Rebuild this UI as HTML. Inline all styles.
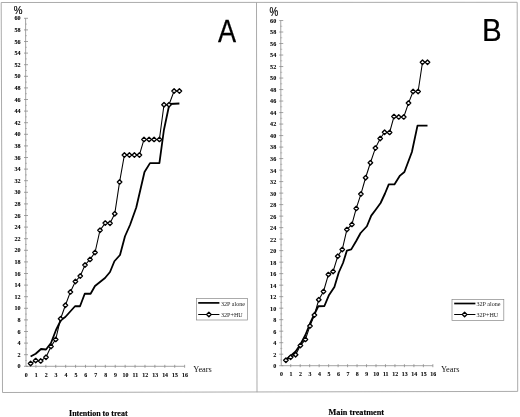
<!DOCTYPE html>
<html><head><meta charset="utf-8"><title>Figure</title>
<style>
html,body{margin:0;padding:0;background:#fff;}
svg{display:block;}
text{font-family:"Liberation Serif",serif;fill:#111;}
.tk text{font-size:6.1px;font-weight:bold;fill:#000;stroke:#000;stroke-width:0.08px;}
.tx text{font-size:5.9px;}
.lg{font-size:6.1px;fill:#222;}
.pc{font-family:"Liberation Sans",sans-serif;font-size:9.8px;fill:#000;stroke:#000;stroke-width:0.15px;}
.big{font-family:"Liberation Sans",sans-serif;font-size:31px;fill:#000;stroke:#000;stroke-width:0.25px;}
.yr{font-size:8.4px;fill:#111;}
.ttl{font-size:8px;font-weight:bold;fill:#000;stroke:#000;stroke-width:0.15px;}
.t2{font-size:8.25px;}
</style></head><body>
<svg width="520" height="417" viewBox="0 0 520 417">
<rect width="520" height="417" fill="#fff"/>
<g stroke="#a2a2a2" stroke-width="0.9" fill="none">
<path d="M1.2,2.5 L517.2,2.3 L517.7,391.4 L2.5,392.5 Z"/>
<line x1="256.5" y1="2.4" x2="257.0" y2="392.2"/>
</g>
<g stroke="#8c8c8c" stroke-width="0.8" fill="none">
<line x1="25.6" y1="18.3" x2="26.0" y2="366.3"/>
<line x1="26.0" y1="366.3" x2="184.64" y2="366.3"/>
<line x1="24.0" y1="366.30" x2="28.0" y2="366.30"/>
<line x1="24.0" y1="354.70" x2="28.0" y2="354.70"/>
<line x1="24.0" y1="343.10" x2="28.0" y2="343.10"/>
<line x1="24.0" y1="331.50" x2="28.0" y2="331.50"/>
<line x1="24.0" y1="319.90" x2="28.0" y2="319.90"/>
<line x1="24.0" y1="308.30" x2="28.0" y2="308.30"/>
<line x1="24.0" y1="296.70" x2="28.0" y2="296.70"/>
<line x1="24.0" y1="285.10" x2="28.0" y2="285.10"/>
<line x1="24.0" y1="273.50" x2="28.0" y2="273.50"/>
<line x1="24.0" y1="261.90" x2="28.0" y2="261.90"/>
<line x1="24.0" y1="250.30" x2="28.0" y2="250.30"/>
<line x1="24.0" y1="238.70" x2="28.0" y2="238.70"/>
<line x1="24.0" y1="227.10" x2="28.0" y2="227.10"/>
<line x1="24.0" y1="215.50" x2="28.0" y2="215.50"/>
<line x1="24.0" y1="203.90" x2="28.0" y2="203.90"/>
<line x1="24.0" y1="192.30" x2="28.0" y2="192.30"/>
<line x1="24.0" y1="180.70" x2="28.0" y2="180.70"/>
<line x1="24.0" y1="169.10" x2="28.0" y2="169.10"/>
<line x1="24.0" y1="157.50" x2="28.0" y2="157.50"/>
<line x1="24.0" y1="145.90" x2="28.0" y2="145.90"/>
<line x1="24.0" y1="134.30" x2="28.0" y2="134.30"/>
<line x1="24.0" y1="122.70" x2="28.0" y2="122.70"/>
<line x1="24.0" y1="111.10" x2="28.0" y2="111.10"/>
<line x1="24.0" y1="99.50" x2="28.0" y2="99.50"/>
<line x1="24.0" y1="87.90" x2="28.0" y2="87.90"/>
<line x1="24.0" y1="76.30" x2="28.0" y2="76.30"/>
<line x1="24.0" y1="64.70" x2="28.0" y2="64.70"/>
<line x1="24.0" y1="53.10" x2="28.0" y2="53.10"/>
<line x1="24.0" y1="41.50" x2="28.0" y2="41.50"/>
<line x1="24.0" y1="29.90" x2="28.0" y2="29.90"/>
<line x1="24.0" y1="18.30" x2="28.0" y2="18.30"/>
<line x1="35.91" y1="364.8" x2="35.91" y2="367.8"/>
<line x1="45.83" y1="364.8" x2="45.83" y2="367.8"/>
<line x1="55.74" y1="364.8" x2="55.74" y2="367.8"/>
<line x1="65.66" y1="364.8" x2="65.66" y2="367.8"/>
<line x1="75.57" y1="364.8" x2="75.57" y2="367.8"/>
<line x1="85.49" y1="364.8" x2="85.49" y2="367.8"/>
<line x1="95.41" y1="364.8" x2="95.41" y2="367.8"/>
<line x1="105.32" y1="364.8" x2="105.32" y2="367.8"/>
<line x1="115.23" y1="364.8" x2="115.23" y2="367.8"/>
<line x1="125.15" y1="364.8" x2="125.15" y2="367.8"/>
<line x1="135.06" y1="364.8" x2="135.06" y2="367.8"/>
<line x1="144.98" y1="364.8" x2="144.98" y2="367.8"/>
<line x1="154.89" y1="364.8" x2="154.89" y2="367.8"/>
<line x1="164.81" y1="364.8" x2="164.81" y2="367.8"/>
<line x1="174.72" y1="364.8" x2="174.72" y2="367.8"/>
<line x1="184.64" y1="364.8" x2="184.64" y2="367.8"/>
</g>
<g stroke="#999" stroke-width="0.6" fill="none">
<line x1="25.0" y1="360.50" x2="27.0" y2="360.50"/>
<line x1="25.0" y1="348.90" x2="27.0" y2="348.90"/>
<line x1="25.0" y1="337.30" x2="27.0" y2="337.30"/>
<line x1="25.0" y1="325.70" x2="27.0" y2="325.70"/>
<line x1="25.0" y1="314.10" x2="27.0" y2="314.10"/>
<line x1="25.0" y1="302.50" x2="27.0" y2="302.50"/>
<line x1="25.0" y1="290.90" x2="27.0" y2="290.90"/>
<line x1="25.0" y1="279.30" x2="27.0" y2="279.30"/>
<line x1="25.0" y1="267.70" x2="27.0" y2="267.70"/>
<line x1="25.0" y1="256.10" x2="27.0" y2="256.10"/>
<line x1="25.0" y1="244.50" x2="27.0" y2="244.50"/>
<line x1="25.0" y1="232.90" x2="27.0" y2="232.90"/>
<line x1="25.0" y1="221.30" x2="27.0" y2="221.30"/>
<line x1="25.0" y1="209.70" x2="27.0" y2="209.70"/>
<line x1="25.0" y1="198.10" x2="27.0" y2="198.10"/>
<line x1="25.0" y1="186.50" x2="27.0" y2="186.50"/>
<line x1="25.0" y1="174.90" x2="27.0" y2="174.90"/>
<line x1="25.0" y1="163.30" x2="27.0" y2="163.30"/>
<line x1="25.0" y1="151.70" x2="27.0" y2="151.70"/>
<line x1="25.0" y1="140.10" x2="27.0" y2="140.10"/>
<line x1="25.0" y1="128.50" x2="27.0" y2="128.50"/>
<line x1="25.0" y1="116.90" x2="27.0" y2="116.90"/>
<line x1="25.0" y1="105.30" x2="27.0" y2="105.30"/>
<line x1="25.0" y1="93.70" x2="27.0" y2="93.70"/>
<line x1="25.0" y1="82.10" x2="27.0" y2="82.10"/>
<line x1="25.0" y1="70.50" x2="27.0" y2="70.50"/>
<line x1="25.0" y1="58.90" x2="27.0" y2="58.90"/>
<line x1="25.0" y1="47.30" x2="27.0" y2="47.30"/>
<line x1="25.0" y1="35.70" x2="27.0" y2="35.70"/>
<line x1="25.0" y1="24.10" x2="27.0" y2="24.10"/>
</g>
<g class="tk" text-anchor="end">
<text x="20.6" y="368.40">0</text>
<text x="20.6" y="356.80">2</text>
<text x="20.6" y="345.20">4</text>
<text x="20.6" y="333.60">6</text>
<text x="20.6" y="322.00">8</text>
<text x="20.6" y="310.40">10</text>
<text x="20.6" y="298.80">12</text>
<text x="20.6" y="287.20">14</text>
<text x="20.6" y="275.60">16</text>
<text x="20.6" y="264.00">18</text>
<text x="20.6" y="252.40">20</text>
<text x="20.6" y="240.80">22</text>
<text x="20.6" y="229.20">24</text>
<text x="20.6" y="217.60">26</text>
<text x="20.6" y="206.00">28</text>
<text x="20.6" y="194.40">30</text>
<text x="20.6" y="182.80">32</text>
<text x="20.6" y="171.20">34</text>
<text x="20.6" y="159.60">36</text>
<text x="20.6" y="148.00">38</text>
<text x="20.6" y="136.40">40</text>
<text x="20.6" y="124.80">42</text>
<text x="20.6" y="113.20">44</text>
<text x="20.6" y="101.60">46</text>
<text x="20.6" y="90.00">48</text>
<text x="20.6" y="78.40">50</text>
<text x="20.6" y="66.80">52</text>
<text x="20.6" y="55.20">54</text>
<text x="20.6" y="43.60">56</text>
<text x="20.6" y="32.00">58</text>
<text x="20.6" y="20.40">60</text>
</g>
<g class="tk tx" text-anchor="middle">
<text x="26.30" y="377.00">0</text>
<text x="36.21" y="377.00">1</text>
<text x="46.13" y="377.00">2</text>
<text x="56.04" y="377.00">3</text>
<text x="65.96" y="377.00">4</text>
<text x="75.87" y="377.00">5</text>
<text x="85.79" y="377.00">6</text>
<text x="95.70" y="377.00">7</text>
<text x="105.62" y="377.00">8</text>
<text x="115.53" y="377.00">9</text>
<text x="125.45" y="377.00">10</text>
<text x="135.37" y="377.00">11</text>
<text x="145.28" y="377.00">12</text>
<text x="155.19" y="377.00">13</text>
<text x="165.11" y="377.00">14</text>
<text x="175.03" y="377.00">15</text>
<text x="184.94" y="377.00">16</text>
</g>
<g stroke="#8c8c8c" stroke-width="0.8" fill="none">
<line x1="280.75" y1="20.6" x2="281.25" y2="365.7"/>
<line x1="281.25" y1="365.7" x2="432.85" y2="365.7"/>
<line x1="279.25" y1="365.70" x2="283.25" y2="365.70"/>
<line x1="279.25" y1="354.19" x2="283.25" y2="354.19"/>
<line x1="279.25" y1="342.69" x2="283.25" y2="342.69"/>
<line x1="279.25" y1="331.18" x2="283.25" y2="331.18"/>
<line x1="279.25" y1="319.68" x2="283.25" y2="319.68"/>
<line x1="279.25" y1="308.17" x2="283.25" y2="308.17"/>
<line x1="279.25" y1="296.66" x2="283.25" y2="296.66"/>
<line x1="279.25" y1="285.16" x2="283.25" y2="285.16"/>
<line x1="279.25" y1="273.65" x2="283.25" y2="273.65"/>
<line x1="279.25" y1="262.15" x2="283.25" y2="262.15"/>
<line x1="279.25" y1="250.64" x2="283.25" y2="250.64"/>
<line x1="279.25" y1="239.13" x2="283.25" y2="239.13"/>
<line x1="279.25" y1="227.63" x2="283.25" y2="227.63"/>
<line x1="279.25" y1="216.12" x2="283.25" y2="216.12"/>
<line x1="279.25" y1="204.62" x2="283.25" y2="204.62"/>
<line x1="279.25" y1="193.11" x2="283.25" y2="193.11"/>
<line x1="279.25" y1="181.60" x2="283.25" y2="181.60"/>
<line x1="279.25" y1="170.10" x2="283.25" y2="170.10"/>
<line x1="279.25" y1="158.59" x2="283.25" y2="158.59"/>
<line x1="279.25" y1="147.09" x2="283.25" y2="147.09"/>
<line x1="279.25" y1="135.58" x2="283.25" y2="135.58"/>
<line x1="279.25" y1="124.07" x2="283.25" y2="124.07"/>
<line x1="279.25" y1="112.57" x2="283.25" y2="112.57"/>
<line x1="279.25" y1="101.06" x2="283.25" y2="101.06"/>
<line x1="279.25" y1="89.56" x2="283.25" y2="89.56"/>
<line x1="279.25" y1="78.05" x2="283.25" y2="78.05"/>
<line x1="279.25" y1="66.54" x2="283.25" y2="66.54"/>
<line x1="279.25" y1="55.04" x2="283.25" y2="55.04"/>
<line x1="279.25" y1="43.53" x2="283.25" y2="43.53"/>
<line x1="279.25" y1="32.03" x2="283.25" y2="32.03"/>
<line x1="279.25" y1="20.52" x2="283.25" y2="20.52"/>
<line x1="290.73" y1="364.2" x2="290.73" y2="367.2"/>
<line x1="300.20" y1="364.2" x2="300.20" y2="367.2"/>
<line x1="309.68" y1="364.2" x2="309.68" y2="367.2"/>
<line x1="319.15" y1="364.2" x2="319.15" y2="367.2"/>
<line x1="328.62" y1="364.2" x2="328.62" y2="367.2"/>
<line x1="338.10" y1="364.2" x2="338.10" y2="367.2"/>
<line x1="347.57" y1="364.2" x2="347.57" y2="367.2"/>
<line x1="357.05" y1="364.2" x2="357.05" y2="367.2"/>
<line x1="366.52" y1="364.2" x2="366.52" y2="367.2"/>
<line x1="376.00" y1="364.2" x2="376.00" y2="367.2"/>
<line x1="385.48" y1="364.2" x2="385.48" y2="367.2"/>
<line x1="394.95" y1="364.2" x2="394.95" y2="367.2"/>
<line x1="404.43" y1="364.2" x2="404.43" y2="367.2"/>
<line x1="413.90" y1="364.2" x2="413.90" y2="367.2"/>
<line x1="423.38" y1="364.2" x2="423.38" y2="367.2"/>
<line x1="432.85" y1="364.2" x2="432.85" y2="367.2"/>
</g>
<g stroke="#999" stroke-width="0.6" fill="none">
<line x1="280.25" y1="359.95" x2="282.25" y2="359.95"/>
<line x1="280.25" y1="348.44" x2="282.25" y2="348.44"/>
<line x1="280.25" y1="336.94" x2="282.25" y2="336.94"/>
<line x1="280.25" y1="325.43" x2="282.25" y2="325.43"/>
<line x1="280.25" y1="313.92" x2="282.25" y2="313.92"/>
<line x1="280.25" y1="302.42" x2="282.25" y2="302.42"/>
<line x1="280.25" y1="290.91" x2="282.25" y2="290.91"/>
<line x1="280.25" y1="279.40" x2="282.25" y2="279.40"/>
<line x1="280.25" y1="267.90" x2="282.25" y2="267.90"/>
<line x1="280.25" y1="256.39" x2="282.25" y2="256.39"/>
<line x1="280.25" y1="244.89" x2="282.25" y2="244.89"/>
<line x1="280.25" y1="233.38" x2="282.25" y2="233.38"/>
<line x1="280.25" y1="221.88" x2="282.25" y2="221.88"/>
<line x1="280.25" y1="210.37" x2="282.25" y2="210.37"/>
<line x1="280.25" y1="198.86" x2="282.25" y2="198.86"/>
<line x1="280.25" y1="187.36" x2="282.25" y2="187.36"/>
<line x1="280.25" y1="175.85" x2="282.25" y2="175.85"/>
<line x1="280.25" y1="164.34" x2="282.25" y2="164.34"/>
<line x1="280.25" y1="152.84" x2="282.25" y2="152.84"/>
<line x1="280.25" y1="141.33" x2="282.25" y2="141.33"/>
<line x1="280.25" y1="129.83" x2="282.25" y2="129.83"/>
<line x1="280.25" y1="118.32" x2="282.25" y2="118.32"/>
<line x1="280.25" y1="106.81" x2="282.25" y2="106.81"/>
<line x1="280.25" y1="95.31" x2="282.25" y2="95.31"/>
<line x1="280.25" y1="83.80" x2="282.25" y2="83.80"/>
<line x1="280.25" y1="72.30" x2="282.25" y2="72.30"/>
<line x1="280.25" y1="60.79" x2="282.25" y2="60.79"/>
<line x1="280.25" y1="49.28" x2="282.25" y2="49.28"/>
<line x1="280.25" y1="37.78" x2="282.25" y2="37.78"/>
<line x1="280.25" y1="26.27" x2="282.25" y2="26.27"/>
</g>
<g class="tk" text-anchor="end">
<text x="276.2" y="368.10">0</text>
<text x="276.2" y="356.59">2</text>
<text x="276.2" y="345.09">4</text>
<text x="276.2" y="333.58">6</text>
<text x="276.2" y="322.08">8</text>
<text x="276.2" y="310.57">10</text>
<text x="276.2" y="299.06">12</text>
<text x="276.2" y="287.56">14</text>
<text x="276.2" y="276.05">16</text>
<text x="276.2" y="264.55">18</text>
<text x="276.2" y="253.04">20</text>
<text x="276.2" y="241.53">22</text>
<text x="276.2" y="230.03">24</text>
<text x="276.2" y="218.52">26</text>
<text x="276.2" y="207.02">28</text>
<text x="276.2" y="195.51">30</text>
<text x="276.2" y="184.00">32</text>
<text x="276.2" y="172.50">34</text>
<text x="276.2" y="160.99">36</text>
<text x="276.2" y="149.49">38</text>
<text x="276.2" y="137.98">40</text>
<text x="276.2" y="126.47">42</text>
<text x="276.2" y="114.97">44</text>
<text x="276.2" y="103.46">46</text>
<text x="276.2" y="91.96">48</text>
<text x="276.2" y="80.45">50</text>
<text x="276.2" y="68.94">52</text>
<text x="276.2" y="57.44">54</text>
<text x="276.2" y="45.93">56</text>
<text x="276.2" y="34.43">58</text>
<text x="276.2" y="22.92">60</text>
</g>
<g class="tk tx" text-anchor="middle">
<text x="281.55" y="376.40">0</text>
<text x="291.03" y="376.40">1</text>
<text x="300.50" y="376.40">2</text>
<text x="309.98" y="376.40">3</text>
<text x="319.45" y="376.40">4</text>
<text x="328.93" y="376.40">5</text>
<text x="338.40" y="376.40">6</text>
<text x="347.88" y="376.40">7</text>
<text x="357.35" y="376.40">8</text>
<text x="366.82" y="376.40">9</text>
<text x="376.30" y="376.40">10</text>
<text x="385.78" y="376.40">11</text>
<text x="395.25" y="376.40">12</text>
<text x="404.73" y="376.40">13</text>
<text x="414.20" y="376.40">14</text>
<text x="423.68" y="376.40">15</text>
<text x="433.15" y="376.40">16</text>
</g>
<polyline points="30.6,356.5 35.7,353.75 41,349 46,349.5 51,343 56,330 61,320 65.3,317 75,306.25 80,306.25 84.75,293.75 90.6,293.75 95,286 105,278 110,272 114.4,261.25 120,255 125,236.25 130,225 136.25,207.5 144.5,172 150,163.1 159.4,163.1 163.9,130 169.4,104 179.4,103.5" fill="none" stroke="#000" stroke-width="1.8" stroke-linejoin="round"/>
<polyline points="30.6,363.5 35.7,360.6 40.7,360.9 46,357.25 51,346.5 55.7,339.4 60.6,318.75 65.4,305.25 70.4,291.9 75.4,281.5 80.25,276 85,265 90,259.4 95,252.5 100,230.25 105.25,223.1 110,223.2 114.75,213.75 119.6,181.9 124.4,155 129.4,155 134.4,155 139.4,155 144,139.4 149.1,139.4 154.1,139.4 159.4,139.4 164,104.75 169,104.75 174.1,91 179.4,91" fill="none" stroke="#000" stroke-width="1.05"/>
<g fill="#fff" stroke="#000" stroke-width="1.35" stroke-linejoin="round"><path d="M28.35,363.5 L30.6,361.25 L32.85,363.5 L30.6,365.75 Z"/><path d="M33.45,360.6 L35.7,358.35 L37.95,360.6 L35.7,362.85 Z"/><path d="M38.45,360.9 L40.7,358.65 L42.95,360.9 L40.7,363.15 Z"/><path d="M43.75,357.25 L46,355.0 L48.25,357.25 L46,359.5 Z"/><path d="M48.75,346.5 L51,344.25 L53.25,346.5 L51,348.75 Z"/><path d="M53.45,339.4 L55.7,337.15 L57.95,339.4 L55.7,341.65 Z"/><path d="M58.35,318.75 L60.6,316.5 L62.85,318.75 L60.6,321.0 Z"/><path d="M63.150000000000006,305.25 L65.4,303.0 L67.65,305.25 L65.4,307.5 Z"/><path d="M68.15,291.9 L70.4,289.65 L72.65,291.9 L70.4,294.15 Z"/><path d="M73.15,281.5 L75.4,279.25 L77.65,281.5 L75.4,283.75 Z"/><path d="M78.0,276 L80.25,273.75 L82.5,276 L80.25,278.25 Z"/><path d="M82.75,265 L85,262.75 L87.25,265 L85,267.25 Z"/><path d="M87.75,259.4 L90,257.15 L92.25,259.4 L90,261.65 Z"/><path d="M92.75,252.5 L95,250.25 L97.25,252.5 L95,254.75 Z"/><path d="M97.75,230.25 L100,228.0 L102.25,230.25 L100,232.5 Z"/><path d="M103.0,223.1 L105.25,220.85 L107.5,223.1 L105.25,225.35 Z"/><path d="M107.75,223.2 L110,220.95 L112.25,223.2 L110,225.45 Z"/><path d="M112.5,213.75 L114.75,211.5 L117.0,213.75 L114.75,216.0 Z"/><path d="M117.35,181.9 L119.6,179.65 L121.85,181.9 L119.6,184.15 Z"/><path d="M122.15,155 L124.4,152.75 L126.65,155 L124.4,157.25 Z"/><path d="M127.15,155 L129.4,152.75 L131.65,155 L129.4,157.25 Z"/><path d="M132.15,155 L134.4,152.75 L136.65,155 L134.4,157.25 Z"/><path d="M137.15,155 L139.4,152.75 L141.65,155 L139.4,157.25 Z"/><path d="M141.75,139.4 L144,137.15 L146.25,139.4 L144,141.65 Z"/><path d="M146.85,139.4 L149.1,137.15 L151.35,139.4 L149.1,141.65 Z"/><path d="M151.85,139.4 L154.1,137.15 L156.35,139.4 L154.1,141.65 Z"/><path d="M157.15,139.4 L159.4,137.15 L161.65,139.4 L159.4,141.65 Z"/><path d="M161.75,104.75 L164,102.5 L166.25,104.75 L164,107.0 Z"/><path d="M166.75,104.75 L169,102.5 L171.25,104.75 L169,107.0 Z"/><path d="M171.85,91 L174.1,88.75 L176.35,91 L174.1,93.25 Z"/><path d="M177.15,91 L179.4,88.75 L181.65,91 L179.4,93.25 Z"/></g>
<polyline points="285.9,359.5 290.6,356 295.6,351.5 300.4,344.5 305.4,335 310,323.5 313.5,316 318.3,306.25 324.4,306 328.75,295.6 334.4,286.9 338.75,272.5 343,263 346.9,250.6 351.25,249.4 356.2,241 360.6,233 366.9,226.25 371.25,215.6 375.5,210 380.6,203 385,193.5 388.75,184.4 394.4,184.4 400,175.6 404.4,172 411.9,152 417.5,125.6 427.5,125.6" fill="none" stroke="#000" stroke-width="1.8" stroke-linejoin="round"/>
<polyline points="285.9,360.25 290.6,357.25 295.6,354.75 300.4,345.6 305.4,339.4 310,325.9 314.4,315 318.75,299.75 323.5,291.5 328.4,274.6 333.1,271.5 337.75,256.25 342.25,249.6 346.9,229.6 351.9,224.4 356.25,208.4 360.9,194.1 365.6,177.75 370.4,162.75 375.4,148.1 380.2,138.5 384.6,132.2 389.6,132.4 394,116.6 398.75,116.9 403.75,116.9 408.5,103.1 413.1,91.5 418.1,91.5 422.5,62.25 427.5,62.25" fill="none" stroke="#000" stroke-width="1.05"/>
<g fill="#fff" stroke="#000" stroke-width="1.35" stroke-linejoin="round"><path d="M283.65,360.25 L285.9,358.0 L288.15,360.25 L285.9,362.5 Z"/><path d="M288.35,357.25 L290.6,355.0 L292.85,357.25 L290.6,359.5 Z"/><path d="M293.35,354.75 L295.6,352.5 L297.85,354.75 L295.6,357.0 Z"/><path d="M298.15,345.6 L300.4,343.35 L302.65,345.6 L300.4,347.85 Z"/><path d="M303.15,339.4 L305.4,337.15 L307.65,339.4 L305.4,341.65 Z"/><path d="M307.75,325.9 L310,323.65 L312.25,325.9 L310,328.15 Z"/><path d="M312.15,315 L314.4,312.75 L316.65,315 L314.4,317.25 Z"/><path d="M316.5,299.75 L318.75,297.5 L321.0,299.75 L318.75,302.0 Z"/><path d="M321.25,291.5 L323.5,289.25 L325.75,291.5 L323.5,293.75 Z"/><path d="M326.15,274.6 L328.4,272.35 L330.65,274.6 L328.4,276.85 Z"/><path d="M330.85,271.5 L333.1,269.25 L335.35,271.5 L333.1,273.75 Z"/><path d="M335.5,256.25 L337.75,254.0 L340.0,256.25 L337.75,258.5 Z"/><path d="M340.0,249.6 L342.25,247.35 L344.5,249.6 L342.25,251.85 Z"/><path d="M344.65,229.6 L346.9,227.35 L349.15,229.6 L346.9,231.85 Z"/><path d="M349.65,224.4 L351.9,222.15 L354.15,224.4 L351.9,226.65 Z"/><path d="M354.0,208.4 L356.25,206.15 L358.5,208.4 L356.25,210.65 Z"/><path d="M358.65,194.1 L360.9,191.85 L363.15,194.1 L360.9,196.35 Z"/><path d="M363.35,177.75 L365.6,175.5 L367.85,177.75 L365.6,180.0 Z"/><path d="M368.15,162.75 L370.4,160.5 L372.65,162.75 L370.4,165.0 Z"/><path d="M373.15,148.1 L375.4,145.85 L377.65,148.1 L375.4,150.35 Z"/><path d="M377.95,138.5 L380.2,136.25 L382.45,138.5 L380.2,140.75 Z"/><path d="M382.35,132.2 L384.6,129.95 L386.85,132.2 L384.6,134.45 Z"/><path d="M387.35,132.4 L389.6,130.15 L391.85,132.4 L389.6,134.65 Z"/><path d="M391.75,116.6 L394,114.35 L396.25,116.6 L394,118.85 Z"/><path d="M396.5,116.9 L398.75,114.65 L401.0,116.9 L398.75,119.15 Z"/><path d="M401.5,116.9 L403.75,114.65 L406.0,116.9 L403.75,119.15 Z"/><path d="M406.25,103.1 L408.5,100.85 L410.75,103.1 L408.5,105.35 Z"/><path d="M410.85,91.5 L413.1,89.25 L415.35,91.5 L413.1,93.75 Z"/><path d="M415.85,91.5 L418.1,89.25 L420.35,91.5 L418.1,93.75 Z"/><path d="M420.25,62.25 L422.5,60.0 L424.75,62.25 L422.5,64.5 Z"/><path d="M425.25,62.25 L427.5,60.0 L429.75,62.25 L427.5,64.5 Z"/></g>
<rect x="196.5" y="298.5" width="51" height="21.5" fill="none" stroke="#888" stroke-width="0.7"/>
<line x1="198.2" y1="302.9" x2="219.4" y2="302.9" stroke="#000" stroke-width="1.7"/>
<line x1="198.2" y1="314.5" x2="219.4" y2="314.5" stroke="#000" stroke-width="1"/>
<g fill="#fff" stroke="#000" stroke-width="1.35" stroke-linejoin="round"><path d="M206.65,314.5 L208.9,312.25 L211.15,314.5 L208.9,316.75 Z"/></g>
<text class="lg" x="221" y="305.5">32P alone</text>
<text class="lg" x="221" y="316.8">32P+HU</text>
<rect x="452" y="299.5" width="51.8" height="21" fill="none" stroke="#888" stroke-width="0.7"/>
<line x1="454.2" y1="303.5" x2="475.4" y2="303.5" stroke="#000" stroke-width="1.7"/>
<line x1="454.2" y1="314.5" x2="475.4" y2="314.5" stroke="#000" stroke-width="1"/>
<g fill="#fff" stroke="#000" stroke-width="1.35" stroke-linejoin="round"><path d="M462.35,314.5 L464.6,312.25 L466.85,314.5 L464.6,316.75 Z"/></g>
<text class="lg" x="476.5" y="306.1">32P alone</text>
<text class="lg" x="476.5" y="316.8">32P+HU</text>
<text class="pc" transform="translate(13.7,13.9) scale(1,1.1)">%</text>
<text class="pc" transform="translate(269.6,15.5) scale(1,1.22)">%</text>
<text class="big" transform="translate(217.9,42.2) scale(0.875,1)">A</text>
<text class="big" transform="translate(481.9,41.3) scale(0.95,0.985)">B</text>
<text class="yr" x="193.2" y="371.6">Years</text>
<text class="yr" x="440.9" y="371.8">Years</text>
<text class="ttl" x="98.3" y="415.8" text-anchor="middle">Intention to treat</text>
<text class="ttl t2" x="356.3" y="415" text-anchor="middle">Main treatment</text>
</svg>
</body></html>
